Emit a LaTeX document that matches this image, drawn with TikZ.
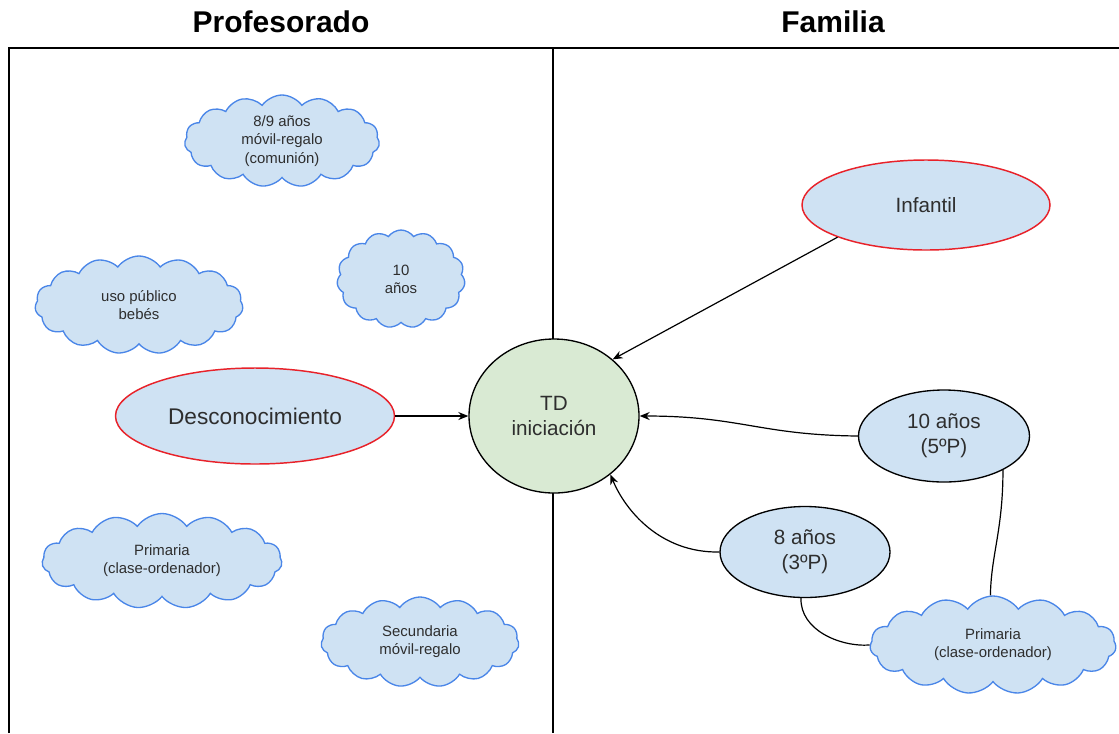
\documentclass[tikz,border=0pt]{standalone}
\usepackage{fontspec}
\setmainfont{Liberation Sans}
\usetikzlibrary{shapes.geometric,shapes.symbols,arrows.meta}
\definecolor{boxblue}{HTML}{CFE2F3}
\definecolor{boxgreen}{HTML}{D9EAD3}
\definecolor{cloudline}{HTML}{4A86E8}
\definecolor{redline}{HTML}{E8222A}
\definecolor{txt}{HTML}{2E2E2E}
\begin{document}
\begin{tikzpicture}[x=0.75pt,y=-0.75pt,
  every node/.style={text=txt, align=center, inner sep=0pt},
  size/.style 2 args={minimum width=#1*0.75pt, minimum height=#2*0.75pt},
  title/.style={font=\fontsize{22.5}{26}\selectfont\bfseries, text=black},
  idea/.style={cloud, cloud puffs=15, cloud puff arc=110, cloud ignores aspect,
    draw=cloudline, line width=1pt, fill=boxblue, font=\fontsize{11.2}{13.6}\selectfont},
  keyell/.style={ellipse, draw=redline, line width=1.1pt, fill=boxblue,
    font=\fontsize{15.5}{19}\selectfont},
  ageell/.style={ellipse, draw=black, line width=1pt, fill=boxblue,
    font=\fontsize{15.5}{19}\selectfont},
  hub/.style={ellipse, draw=black, line width=1pt, fill=boxgreen,
    font=\fontsize{15.5}{19}\selectfont},
  link/.style={draw=black, line width=0.9pt},
  flow/.style={link, -{Stealth[length=7.5pt,width=6pt]}}]
\useasboundingbox (0,0) rectangle (1119,733);

% two-column frame
\draw[line width=1.2pt] (9,733) -- (9,48) -- (1119,48);
\draw[line width=1.2pt] (553,48) -- (553,733);
\node[title] (tprof) at (281,22) {Profesorado};
\node[title] (tfam) at (833,22) {Familia};

% hub in the middle
\node[hub, size={170}{154}] (td) at (554,416) {TD\\iniciación};

% left column
\node[idea, size={195}{92}] (c89) at (282,141) {8/9 años\\móvil-regalo\\(comunión)};
\node[idea, size={208}{98}] (cuso) at (139,305) {uso público\\bebés};
\node[idea, size={128}{98}] (c10) at (401,279) {10\\años};
\node[keyell, size={279}{96}, font=\fontsize{17}{20}\selectfont] (desc) at (255,416) {Desconocimiento};
\node[idea, size={240}{95}] (cprim) at (162,561) {Primaria\\(clase-ordenador)};
\node[idea, size={198}{90}] (csec) at (420,642) {Secundaria\\móvil-regalo};

% right column
\node[keyell, size={248}{90}] (inf) at (926,205) {Infantil};
\node[ageell, size={171}{92}] (a10) at (944,436) {10 años\\(5ºP)};
\node[ageell, size={170}{91}] (a8) at (805,552) {8 años\\(3ºP)};
\node[idea, size={246}{98}] (cprim2) at (993,645) {Primaria\\(clase-ordenador)};

% connectors
\draw[flow] (desc.east) -- (td.west);
\draw[flow] (inf.200) -- (td.44);
\draw[flow] (a10.west) .. controls (760,435) and (740,416) .. (td.east);
\draw[flow] (a8.west) .. controls (660,553) and (625,510) .. (td.-46);
\draw[link] (a10.-30) .. controls (1003,530) and (991,555) .. (cprim2.93);
\draw[link] (a8.-95) .. controls (800,630) and (840,647) .. (cprim2.west);
\end{tikzpicture}
\end{document}
